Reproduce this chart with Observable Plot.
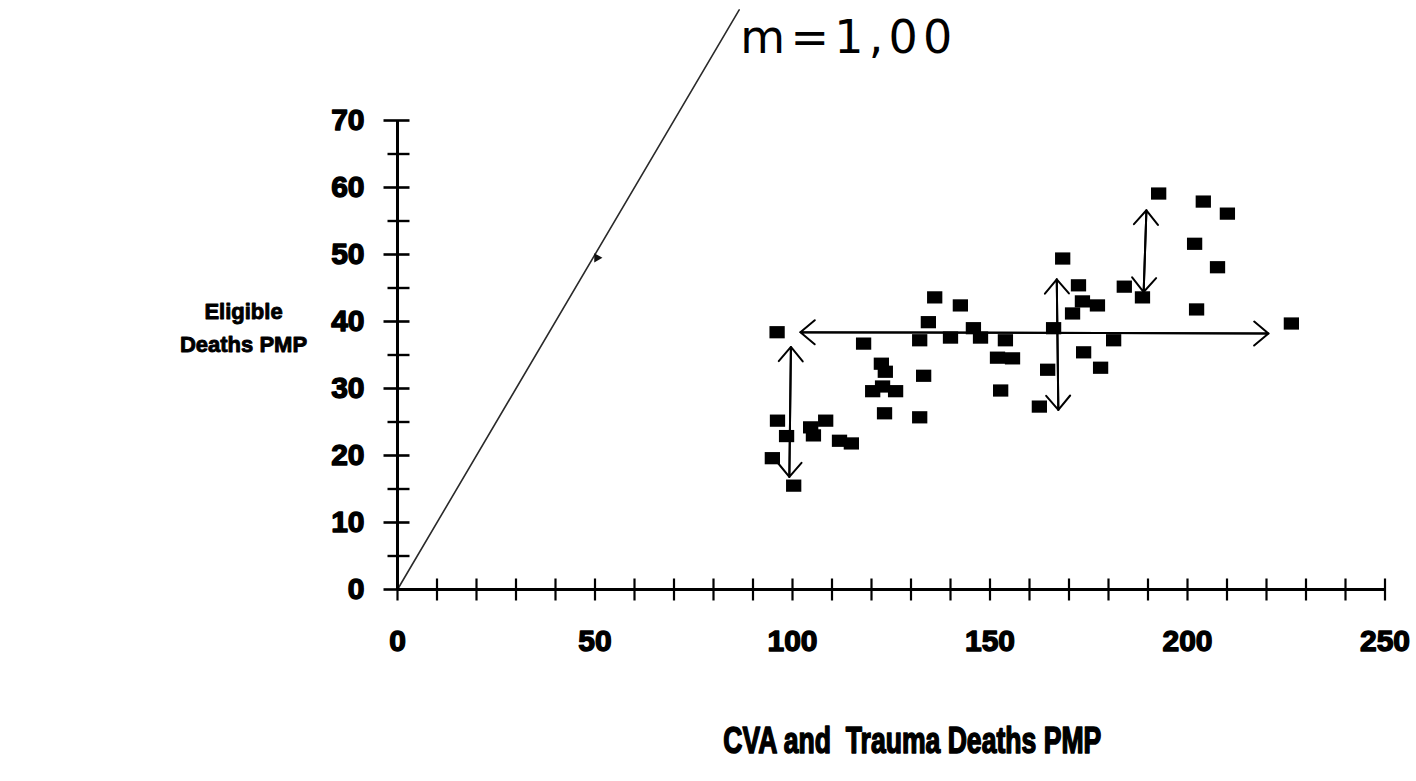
<!DOCTYPE html>
<html><head><meta charset="utf-8">
<script src="https://cdn.jsdelivr.net/npm/d3@7"></script>
<script src="https://cdn.jsdelivr.net/npm/@observablehq/plot@0.6"></script>
<style>
html,body{margin:0;padding:0;background:#fff;}
#chart svg text{white-space:pre;}
</style></head><body><div id="chart"></div>
<script>
// ---- data ----
const cvaTraumaPMP = [96.1,136,142.5,134.4,118,132.2,140,122.5,123.5,133.2,120.3,122.8,126.1,123.3,132.2,96.2,108.4,104.6,105.3,98.5,111.9,114.9,94.9,100.3,168.4,172.4,184,188.6,173.4,177.2,170.9,145.8,147.6,153.9,166.1,181.3,151.9,155.7,173.7,164.6,178,152.7,162.5,192.7,204,210.1,201.8,207.6,202.3,226.3];
const eligiblePMP = [38.4,43.6,42.4,39.9,36.7,37.2,37.6,33.7,32.5,31.9,29.6,30.3,29.6,26.3,25.7,25.2,25.2,24.2,23,22.9,22.2,21.8,19.6,15.5,49.4,45.4,45.2,43.6,43,42.4,41.2,39,37.6,37.2,39,37.2,34.6,34.5,35.4,32.8,33.1,29.7,27.3,59.1,57.9,56.1,51.6,48.1,41.8,39.7];

const xTickValues = [0,10,20,30,40,50,60,70,80,90,100,110,120,130,140,150,160,170,180,190,200,210,220,230,240,250];
const xTickLabels = [0,50,100,150,200,250];
const yTickLabels = [0,10,20,30,40,50,60,70];
const yMinorTicks = [5,15,25,35,45,55,65];

// slope reference line (m = 1.00)
const slopeX = [0, 86.5];
const slopeY = [0, 86.5];
const slopeMarkX = [50.5];
const slopeMarkY = [49.5];

// hand-drawn double-headed arrows
const arrowX1 = [102, 99.6, 166.9, 189.6];
const arrowY1 = [38.4, 36.2, 46.3, 56.6];
const arrowX2 = [220.5, 99.2, 167.3, 188.9];
const arrowY2 = [38.2, 16.8, 26.8, 44.4];

const annotationText = ["m=1,00"];
const annotationX = [86.8];
const annotationY = [80.1];

const yTitle = "Eligible\nDeaths PMP";
const xTitle = "CVA and  Trauma Deaths PMP";

// ---- build tables ----
const points = cvaTraumaPMP.map((x, i) => ({x, y: eligiblePMP[i]}));
const slope = slopeX.map((x, i) => ({x, y: slopeY[i]}));
const slopeMark = slopeMarkX.map((x, i) => ({x, y: slopeMarkY[i]}));
const arrows = arrowX1.map((x1, i) => ({x1, y1: arrowY1[i], x2: arrowX2[i], y2: arrowY2[i]}));
const notes = annotationText.map((t, i) => ({t, x: annotationX[i], y: annotationY[i]}));

// custom symbols
const squareSym = {draw(ctx, size){ const s = Math.sqrt(size); const w = s*1.15, h = s*0.92; ctx.rect(-w/2, -h/2, w, h); }};
const xTickSym = {draw(ctx){ ctx.moveTo(0,-11); ctx.lineTo(0,11); }};
const yMajorSym = {draw(ctx){ ctx.moveTo(-14,0); ctx.lineTo(12,0); }};
const yMinorSym = {draw(ctx){ ctx.moveTo(-10,0); ctx.lineTo(12,0); }};

const font = "'Liberation Sans', Arial, sans-serif";

const chart = Plot.plot({
  width: 1416, height: 781,
  marginLeft: 397, marginRight: 31.5, marginTop: 120, marginBottom: 192,
  x: {domain: [0, 250], axis: null},
  y: {domain: [0, 70], axis: null},
  style: {background: "#fff", fontFamily: font, overflow: "visible"},
  marks: [
    // slope line
    Plot.line(slope, {x: "x", y: "y", stroke: "#2a2a2a", strokeWidth: 1.6}),
    Plot.dot(slopeMark, {x: "x", y: "y", symbol: "triangle", r: 3.5, fill: "#111", rotate: 210}),
    // axes lines
    Plot.ruleY([0], {stroke: "#000", strokeWidth: 3}),
    Plot.ruleX([0], {stroke: "#000", strokeWidth: 3}),
    // ticks
    Plot.dot(xTickValues, {x: d => d, y: 0, symbol: xTickSym, r: 5, stroke: "#000", strokeWidth: 2.2, fill: "none"}),
    Plot.dot(yTickLabels, {x: 0, y: d => d, symbol: yMajorSym, r: 5, stroke: "#000", strokeWidth: 2.6, fill: "none"}),
    Plot.dot(yMinorTicks, {x: 0, y: d => d, symbol: yMinorSym, r: 5, stroke: "#000", strokeWidth: 2.4, fill: "none"}),
    // tick labels
    Plot.text(xTickLabels, {x: d => d, y: 0, dy: 52, text: d => String(d), fontSize: 30, fontWeight: "bold", fill: "#000", stroke: "#000", strokeWidth: 1.4}),
    Plot.text(yTickLabels, {x: 0, y: d => d, dx: -33, textAnchor: "end", text: d => String(d), fontSize: 30, fontWeight: "bold", fill: "#000", stroke: "#000", strokeWidth: 1.4}),
    // data squares
    Plot.dot(points, {x: "x", y: "y", symbol: squareSym, r: 7.5, fill: "#000", stroke: "none"}),
    // hand-drawn arrows (double headed)
    Plot.arrow(arrows, {x1: "x1", y1: "y1", x2: "x2", y2: "y2", stroke: "#000", strokeWidth: 2, headLength: 14, headAngle: 80}),
    Plot.arrow(arrows, {x1: "x2", y1: "y2", x2: "x1", y2: "y1", stroke: "#000", strokeWidth: 2, headLength: 14, headAngle: 80}),
    // annotation
    Plot.text(notes, {x: "x", y: "y", text: "t", textAnchor: "start", lineAnchor: "bottom", fontSize: 46, fontFamily: "'DejaVu Sans', sans-serif", fill: "#000"}),
    // axis titles
    Plot.text([yTitle], {frameAnchor: "left", dx: -154, dy: -30, text: d => d, textAnchor: "middle", lineHeight: 1.5, fontSize: 22, fontWeight: "bold", fill: "#000", stroke: "#000", strokeWidth: 0.9}),
    Plot.text([xTitle], {frameAnchor: "bottom", dx: 21, dy: 163, text: d => d, textAnchor: "middle", fontSize: 37, fontWeight: "bold", fill: "#000", stroke: "#000", strokeWidth: 1.6})
  ]
});
document.getElementById("chart").appendChild(chart);

// fit hand-measured text widths of the reference
d3.select(chart).selectAll("text").each(function () {
  const t = this.textContent;
  if (t === xTitle) d3.select(this).attr("textLength", 378).attr("lengthAdjust", "spacingAndGlyphs");
  if (t === annotationText[0]) d3.select(this).attr("textLength", 212).attr("lengthAdjust", "spacing");
});
</script>
</body></html>
